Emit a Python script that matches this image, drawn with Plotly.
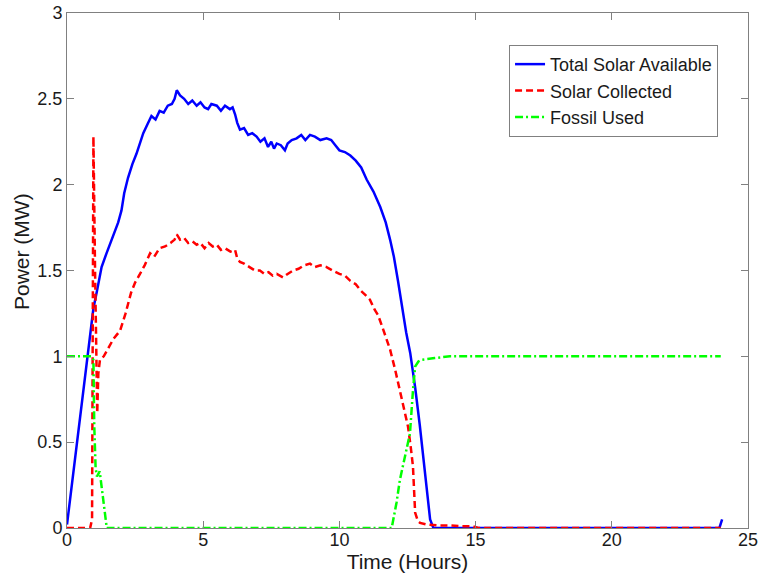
import plotly.graph_objects as go

# Total Solar Available (MW)
t_avail = [0, 0.5, 0.97, 1.1, 1.27, 1.45, 1.6, 1.75, 1.88, 2.0, 2.1, 2.24, 2.4, 2.55, 2.68, 2.8, 2.95,
           3.1, 3.25, 3.4, 3.55, 3.7, 3.85, 3.95, 4.03, 4.15, 4.3, 4.45, 4.6, 4.76, 4.9, 5.05, 5.18,
           5.3, 5.5, 5.65, 5.8, 5.98, 6.08, 6.17, 6.25, 6.35, 6.5, 6.65, 6.8, 6.96, 7.1, 7.25, 7.38,
           7.5, 7.6, 7.7, 7.85, 8.0, 8.1, 8.25, 8.43, 8.6, 8.75, 8.92, 9.1, 9.3, 9.53, 9.7, 9.85,
           10.0, 10.2, 10.4, 10.6, 10.8, 11.0, 11.25, 11.5, 11.7, 11.86, 12.0, 12.15, 12.3, 12.45,
           12.6, 12.78, 12.95, 13.08, 13.2, 13.33, 13.45, 14.0, 16.0, 18.0, 20.0, 22.0, 23.95, 24.05]
p_avail = [0.02, 0.66, 1.28, 1.38, 1.52, 1.6, 1.66, 1.72, 1.78, 1.85, 1.95, 2.04, 2.12, 2.18, 2.24, 2.3, 2.35,
           2.4, 2.38, 2.43, 2.42, 2.46, 2.47, 2.5, 2.55, 2.52, 2.5, 2.47, 2.49, 2.46, 2.48, 2.45, 2.44,
           2.47, 2.46, 2.43, 2.46, 2.44, 2.45, 2.41, 2.36, 2.32, 2.33, 2.29, 2.3, 2.28, 2.25, 2.27, 2.22,
           2.25, 2.21, 2.24, 2.23, 2.2, 2.24, 2.26, 2.27, 2.29, 2.26, 2.29, 2.28, 2.26, 2.27, 2.26, 2.23,
           2.2, 2.19, 2.17, 2.14, 2.1, 2.03, 1.96, 1.87, 1.78, 1.68, 1.58, 1.44, 1.28, 1.14,
           1.02, 0.82, 0.6, 0.42, 0.22, 0.05, 0.0, 0.0, 0.0, 0.0, 0.0, 0.0, 0.0, 0.05]

# Solar Collected (MW)
t_coll = [0, 0.85, 0.92, 0.97, 1.03, 1.11, 1.15, 1.21, 1.35, 1.5, 1.7, 1.95, 2.15, 2.35, 2.5, 2.68, 2.85,
          3.05, 3.2, 3.4, 3.6, 3.8, 3.95, 4.03, 4.15, 4.3, 4.45, 4.6, 4.76, 4.9, 5.05, 5.2, 5.35, 5.5,
          5.65, 5.8, 6.0, 6.17, 6.25, 6.35, 6.5, 6.7, 6.9, 7.08, 7.25, 7.4, 7.55, 7.7, 7.93, 8.1, 8.3,
          8.5, 8.7, 8.92, 9.1, 9.3, 9.53, 9.75, 10.0, 10.2, 10.4, 10.6, 10.8, 11.0, 11.12, 11.3, 11.42,
          11.6, 11.86, 12.05, 12.22, 12.4, 12.52, 12.62, 12.7, 12.78, 12.88, 12.96, 13.2, 13.6, 14.0,
          14.5, 14.9, 15.1, 24.0]
p_coll = [0, 0, 0.05, 2.28, 1.5, 0.67, 0.9, 0.98, 1.0, 1.04, 1.1, 1.15, 1.25, 1.37, 1.43, 1.48, 1.53,
          1.6, 1.58, 1.63, 1.64, 1.66, 1.68, 1.71, 1.68, 1.69, 1.66, 1.67, 1.65, 1.66, 1.63, 1.66, 1.64, 1.65,
          1.62, 1.63, 1.61, 1.62, 1.57, 1.55, 1.54, 1.52, 1.5, 1.5, 1.48, 1.49, 1.47, 1.48, 1.46, 1.48, 1.5,
          1.51, 1.53, 1.54, 1.52, 1.53, 1.52, 1.5, 1.48, 1.47, 1.44, 1.42, 1.38, 1.35, 1.33, 1.27, 1.24,
          1.16, 1.04, 0.92, 0.8, 0.68, 0.59, 0.47, 0.36, 0.09, 0.04, 0.03, 0.02, 0.015, 0.015,
          0.01, 0.01, 0.0, 0.0]

# Fossil Used (MW)
t_fossil = [0, 0.9, 0.97, 1.0, 1.05, 1.1, 1.2, 1.3, 1.46, 11.92, 12.1, 12.22, 12.4, 12.59, 12.7, 12.78,
            12.9, 13.02, 13.5, 14.06, 15, 24]
p_fossil = [1, 1, 0.98, 0.6, 0.35, 0.3, 0.33, 0.2, 0.0, 0.0, 0.15, 0.28, 0.42, 0.55, 0.8, 0.94,
            0.97, 0.98, 0.99, 1.0, 1.0, 1.0]

x_ticks = [0, 5, 10, 15, 20, 25]
y_ticks = [0, 0.5, 1, 1.5, 2, 2.5, 3]
y_tick_labels = ["0", "0.5", "1", "1.5", "2", "2.5", "3"]

FONT = "Liberation Sans, Arial, sans-serif"
AX = "#808080"
TXT = "#1a1a1a"

fig = go.Figure()
fig.add_trace(go.Scatter(x=t_avail, y=p_avail, mode="lines", name="Total Solar Available",
                         line=dict(color="#0000ff", width=2.5)))
fig.add_trace(go.Scatter(x=t_coll, y=p_coll, mode="lines", name="Solar Collected",
                         line=dict(color="#ff0000", width=2.5, dash="7px,4px")))
fig.add_trace(go.Scatter(x=t_fossil, y=p_fossil, mode="lines", name="Fossil Used",
                         line=dict(color="#00ff00", width=2.5, dash="8px,3px,2px,3px")))

fig.update_layout(
    width=764, height=578,
    margin=dict(l=67, r=16, t=13, b=50, autoexpand=False),
    paper_bgcolor="white", plot_bgcolor="white",
    font=dict(family=FONT, size=18, color=TXT),
    showlegend=True,
    legend=dict(x=0.956, y=0.938, xanchor="right", yanchor="top",
                bordercolor=AX, borderwidth=1, bgcolor="white",
                font=dict(family=FONT, size=18, color=TXT),
                itemwidth=30, tracegroupgap=0),
    xaxis=dict(range=[0, 25], tickvals=x_ticks, ticks="inside", ticklen=7, tickcolor=AX,
               showline=True, linecolor=AX, linewidth=1, mirror="allticks", showgrid=False,
               zeroline=False, automargin=False, ticklabelstandoff=-5, ticklabeloverflow="allow",
               title=dict(text="Time (Hours)", font=dict(size=21), standoff=0),
               tickfont=dict(size=18)),
    yaxis=dict(range=[0, 3], tickvals=y_ticks, ticktext=y_tick_labels, ticks="inside", ticklen=7,
               tickcolor=AX, showline=True, linecolor=AX, linewidth=1, mirror="allticks",
               showgrid=False, zeroline=False, automargin=False, ticklabeloverflow="allow",
               tickfont=dict(size=18)),
    annotations=[dict(text="Power (MW)", textangle=-90, xref="paper", yref="paper",
                      x=-0.066, y=0.536, xanchor="center", yanchor="middle", showarrow=False,
                      font=dict(family=FONT, size=21, color=TXT))],
)

fig.write_html("out.html", config={"displayModeBar": False},
               post_script="document.body.style.margin='0px';")
